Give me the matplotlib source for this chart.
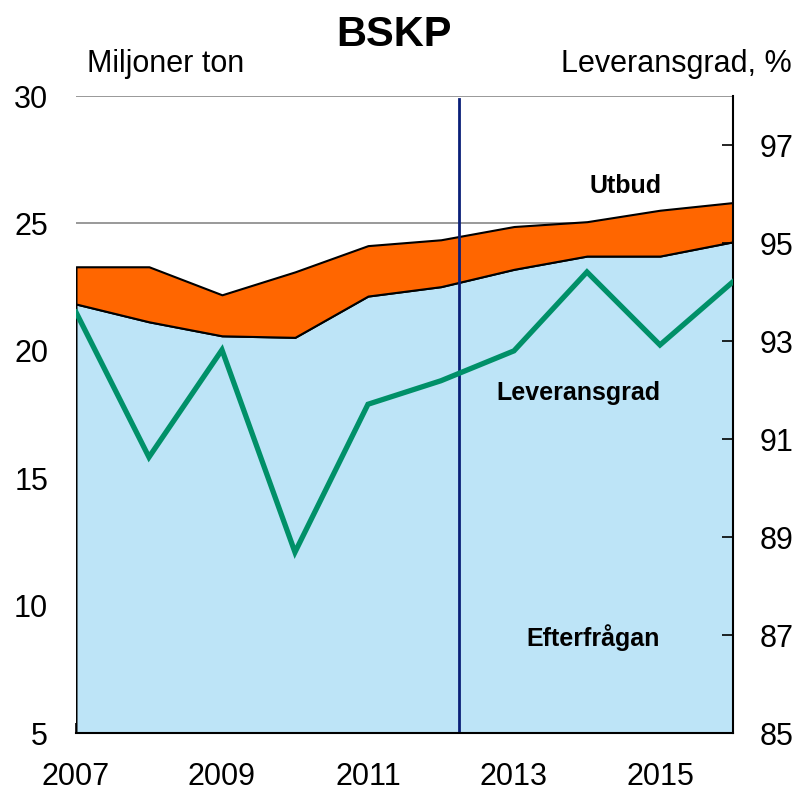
import matplotlib.pyplot as plt

plt.rcParams['font.family'] = ['Liberation Sans', 'DejaVu Sans']

years = [2007, 2008, 2009, 2010, 2011, 2012, 2013, 2014, 2015, 2016]
utbud = [23.3, 23.3, 22.2, 23.1, 24.13, 24.36, 24.88, 25.07, 25.52, 25.82]
efterfragan = [21.84, 21.14, 20.59, 20.53, 22.15, 22.52, 23.2, 23.72, 23.72, 24.28]
leveransgrad = [93.59, 90.63, 92.82, 88.69, 91.71, 92.19, 92.8, 94.41, 92.92, 94.21]
left_ticks = [5, 10, 15, 20, 25, 30]
right_ticks = [85, 87, 89, 91, 93, 95, 97]
year_labels = [2007, 2009, 2011, 2013, 2015]
split_year = 2012.25

ORANGE = '#FF6600'
LIGHTBLUE = '#BDE4F7'
GREEN = '#009068'
NAVY = '#0A1F78'


def main():
    fig = plt.figure(figsize=(7.98, 7.94), dpi=100)
    ax = fig.add_axes([0.0952, 0.0768, 0.8233, 0.8022])
    ax2 = ax.twinx()

    ax.set_axisbelow(True)
    ax.grid(axis='y', color='#888888', linewidth=1.2, zorder=0)

    ax.fill_between(years, 0, efterfragan, facecolor=LIGHTBLUE,
                    edgecolor='black', linewidth=1.5, zorder=2)
    ax.fill_between(years, efterfragan, utbud, facecolor=ORANGE,
                    edgecolor='black', linewidth=1.5, zorder=2)
    ax.plot([split_year, split_year], [5, 29.88], color=NAVY,
            linewidth=2, zorder=3)

    ax.set_xlim(2007, 2016)
    ax.set_ylim(5, 30)
    ax.set_yticks(left_ticks)
    ax.set_xticks(year_labels)
    ax.set_xticks(years, minor=True)
    ax.tick_params(axis='x', which='both', direction='in', length=7,
                   width=1.2, labelsize=22, pad=21)
    ax.tick_params(axis='y', length=0, labelsize=22, pad=20)
    for side in ('left', 'top', 'right'):
        ax.spines[side].set_visible(False)
    ax.spines['bottom'].set_linewidth(1.5)
    ax.spines['bottom'].set_zorder(4)

    ax2.plot(years, leveransgrad, color=GREEN, linewidth=3.8,
             solid_joinstyle='miter', zorder=5)
    ax2.set_ylim(85, 98)
    ax2.set_yticks(right_ticks)
    ax2.tick_params(axis='y', direction='in', length=8, width=1.2,
                    labelsize=22, pad=19)
    for side in ('left', 'top', 'bottom'):
        ax2.spines[side].set_visible(False)
    ax2.spines['right'].set_linewidth(1.5)

    ax2.text(626, 794 - 186, 'Utbud', transform=None, fontsize=18,
             fontweight='bold', ha='center', va='center')
    ax2.text(578, 794 - 393, 'Leveransgrad', transform=None, fontsize=18,
             fontweight='bold', ha='center', va='center')
    ax2.text(593, 794 - 638, 'Efterfrågan', transform=None, fontsize=18,
             fontweight='bold', ha='center', va='center')

    fig.text(394 / 798, 1 - 35 / 794, 'BSKP', fontsize=30,
             fontweight='bold', ha='center', va='center')
    fig.text(87 / 798, 1 - 72 / 794, 'Miljoner ton', fontsize=22,
             ha='left', va='baseline')
    fig.text(792 / 798, 1 - 72 / 794, 'Leveransgrad, %', fontsize=22,
             ha='right', va='baseline')

    fig.savefig('out.png', dpi=100)


if __name__ == '__main__':
    main()
